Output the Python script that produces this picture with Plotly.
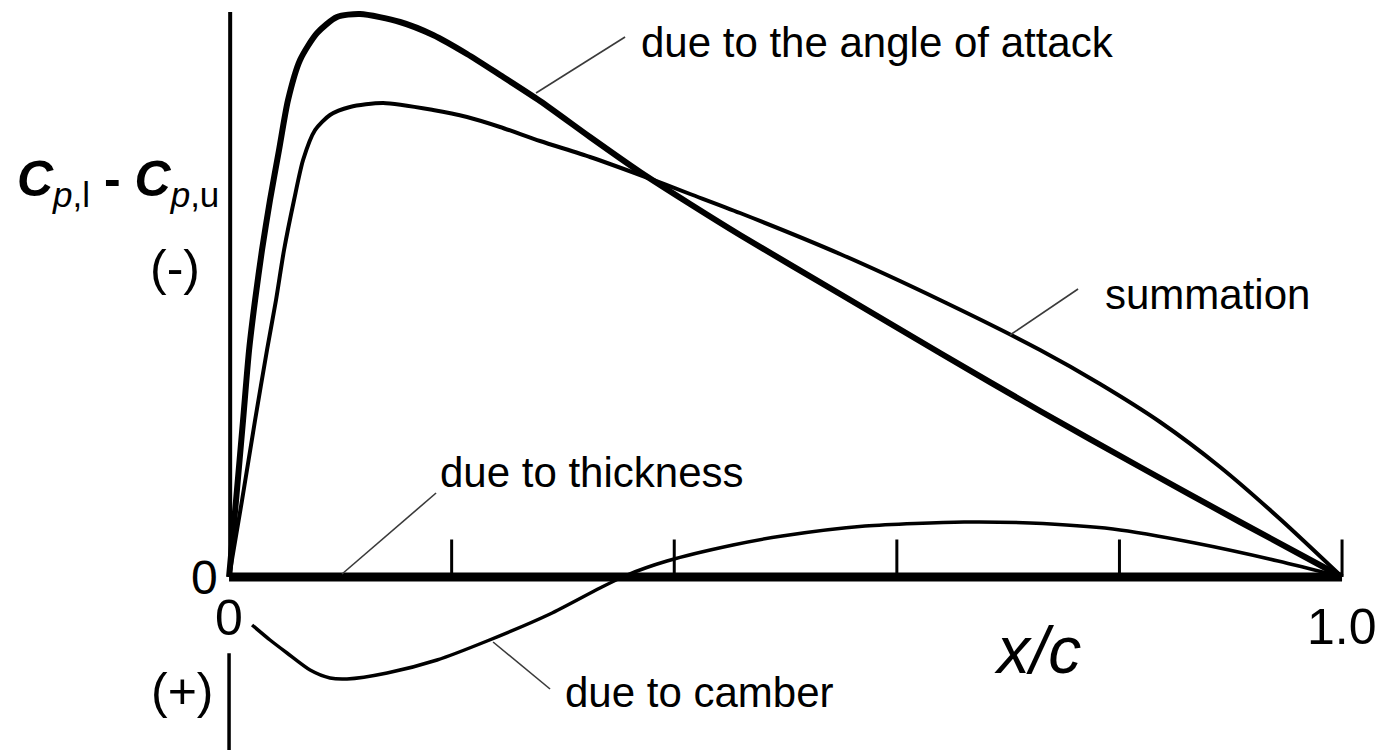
import plotly.graph_objects as go

# Chordwise position x/c and pressure-difference distributions
x_attack = [0.0, 0.0063, 0.0126, 0.018, 0.0234, 0.0296, 0.0368, 0.0449, 0.053, 0.0638,
            0.0791, 0.097, 0.1177, 0.1536, 0.1833, 0.2138, 0.2435, 0.2794, 0.3243, 0.3693,
            0.4142, 0.4591, 0.549, 0.6388, 0.7287, 0.8185, 0.9084, 1.0]
cp_attack = [0.0, 0.308, 0.628, 0.908, 1.108, 1.308, 1.508, 1.708, 1.908, 2.068,
             2.176, 2.24, 2.252, 2.22, 2.168, 2.092, 2.008, 1.904, 1.76, 1.62,
             1.492, 1.368, 1.132, 0.896, 0.664, 0.44, 0.22, 0.0]

x_sum = [0.0, 0.0117, 0.0234, 0.0341, 0.0422, 0.0494, 0.0584, 0.0665, 0.0773, 0.0907,
         0.1087, 0.1384, 0.1833, 0.2138, 0.2435, 0.2794, 0.3243, 0.3693, 0.4142, 0.4591,
         0.549, 0.6388, 0.7287, 0.7826, 0.8365, 0.8904, 0.9443, 1.0]
cp_sum = [0.0, 0.308, 0.628, 0.908, 1.108, 1.308, 1.508, 1.668, 1.788, 1.848,
          1.88, 1.896, 1.868, 1.84, 1.8, 1.744, 1.68, 1.608, 1.532, 1.456,
          1.292, 1.108, 0.908, 0.772, 0.62, 0.44, 0.232, 0.0]

x_camber = [0.0207, 0.0368, 0.0521, 0.0728, 0.0907, 0.106, 0.142, 0.1869, 0.2318, 0.2884,
            0.3333, 0.3576, 0.3935, 0.4528, 0.4969, 0.5714, 0.6604, 0.7197, 0.7942, 0.8679,
            0.9425, 1.0]
cp_camber = [-0.192, -0.252, -0.304, -0.372, -0.404, -0.408, -0.384, -0.332, -0.256, -0.148,
             -0.044, 0.008, 0.064, 0.128, 0.164, 0.204, 0.22, 0.216, 0.192, 0.136,
             0.064, 0.0]

# symmetric thickness contributes nothing to the load
x_thick = [0.0, 1.0]
cp_thick = [0.0, 0.0]

tick_x = [0.2, 0.4, 0.6, 0.8, 1.0]

FONT = "Liberation Sans, Arial, Helvetica, sans-serif"
INK = "#000000"
LEADER = "#3a3a3a"

fig = go.Figure()

fig.add_trace(go.Scatter(x=x_thick, y=cp_thick, mode="lines", name="due to thickness",
                         line=dict(color=INK, width=9), hoverinfo="skip"))
fig.add_trace(go.Scatter(x=x_camber, y=cp_camber, mode="lines", name="due to camber",
                         line=dict(color=INK, width=3.5, shape="spline", smoothing=0.7),
                         hoverinfo="skip"))
fig.add_trace(go.Scatter(x=x_sum, y=cp_sum, mode="lines", name="summation",
                         line=dict(color=INK, width=4, shape="spline", smoothing=0.7),
                         hoverinfo="skip"))
fig.add_trace(go.Scatter(x=x_attack, y=cp_attack, mode="lines", name="due to the angle of attack",
                         line=dict(color=INK, width=6, shape="spline", smoothing=0.7),
                         hoverinfo="skip"))

shapes = []
# vertical axis (upper part and lower stub)
shapes.append(dict(type="line", xref="x", yref="y", x0=0.001, x1=0.001, y0=0.0, y1=2.26,
                   line=dict(color=INK, width=4)))
shapes.append(dict(type="line", xref="x", yref="y", x0=0.0, x1=0.0, y0=-0.305, y1=-0.7,
                   line=dict(color=INK, width=3.5)))
# tick marks along the chord
for tx in tick_x:
    shapes.append(dict(type="line", xref="x", yref="y", x0=tx, x1=tx, y0=0.0, y1=0.15,
                       line=dict(color=INK, width=3)))

# leader lines from the labels to the curves
leaders = [
    (0.2758, 1.936, 0.3558, 2.16),   # angle of attack
    (0.7017, 0.968, 0.7628, 1.152),  # summation
    (0.1015, 0.012, 0.1860, 0.336),  # thickness
    (0.2372, -0.26, 0.2884, -0.448), # camber
]
for x0, y0, x1, y1 in leaders:
    shapes.append(dict(type="line", xref="x", yref="y", x0=x0, y0=y0, x1=x1, y1=y1,
                       line=dict(color=LEADER, width=1.6)))

annotations = []

def label(text, x, y, size, xanchor="left", yanchor="middle"):
    annotations.append(dict(text=text, x=x, y=y, xref="x", yref="y", showarrow=False,
                            xanchor=xanchor, yanchor=yanchor,
                            font=dict(family=FONT, size=size, color=INK)))

label("due to the angle of attack", 0.3685, 2.14, 42)
label("summation", 0.7852, 1.13, 42)
label("due to thickness", 0.1877, 0.42, 42)
label("due to camber", 0.2996, -0.46, 42)

label("0", -0.022, 0.0, 48, xanchor="center")
label("0", 0.0, -0.165, 50, xanchor="center")
label("1.0", 1.0, -0.2, 50, xanchor="center")
label("<i>x/c</i>", 0.726, -0.29, 66, xanchor="center")
label("(-)", -0.049, 1.236, 50, xanchor="center")
label("(+)", -0.042, -0.455, 50, xanchor="center")
label("<b><i>C</i></b><sub><i>p</i>,l</sub> <b>-</b> <b><i>C</i></b><sub><i>p</i>,u</sub>",
      -0.1, 1.58, 50, xanchor="center")

fig.update_layout(
    width=1379, height=750,
    margin=dict(l=0, r=0, t=0, b=0),
    paper_bgcolor="white", plot_bgcolor="white",
    showlegend=False,
    xaxis=dict(range=[-0.2058, 1.0332], visible=False, fixedrange=True),
    yaxis=dict(range=[-0.692, 2.308], visible=False, fixedrange=True),
    shapes=shapes,
    annotations=annotations,
)

fig.write_html("out.html", config={"displayModeBar": False})
